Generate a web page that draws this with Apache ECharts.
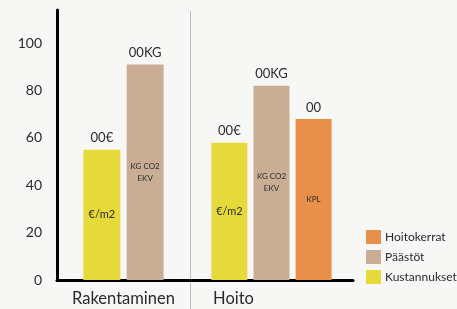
<!DOCTYPE html>
<html><head><meta charset="utf-8">
<script src="https://cdn.jsdelivr.net/npm/echarts@6/dist/echarts.min.js"></script>
<style>html,body{margin:0;padding:0;background:#f7f8f6;}#c{width:457px;height:309px;}</style>
</head><body><div id="c"></div>
<script>
const groups = ['Rakentaminen', 'Hoito'];
const seriesNames = ['Kustannukset', 'Päästöt', 'Hoitokerrat'];
const rakentaminenValues = [55, 91];          // Kustannukset, Päästöt
const hoitoValues = [58, 82, 68];             // Kustannukset, Päästöt, Hoitokerrat
const topLabels = ['00€', '00KG', '00'];
const insideLabels = ['€/m2', 'KG CO2\nEKV', 'KPL'];
const yTicks = [0, 20, 40, 60, 80, 100];

const colors = ['#e6da3a', '#c9ae95', '#e8904a'];
const insideSizes = [11, 8, 8];
const font = 'Lato';

const chart = echarts.init(document.getElementById('c'));

function barSeries(gi, si, values, axisIdx, bw) {
  return {
    type: 'bar', name: seriesNames[si], xAxisIndex: axisIdx, yAxisIndex: gi,
    data: [values[si]], barWidth: bw, barGap: '17%',
    itemStyle: { color: colors[si] },
    label: { show: true, position: 'inside', formatter: insideLabels[si],
      fontFamily: font, fontSize: insideSizes[si], lineHeight: insideSizes[si] + 4, color: '#2a2a2a' },
    silent: true
  };
}
function labelSeries(gi, si, values, axisIdx, bw) {
  return {
    type: 'bar', name: 'lbl' + gi + si, xAxisIndex: axisIdx, yAxisIndex: gi,
    data: [values[si]], barWidth: bw, barGap: '17%',
    itemStyle: { color: 'rgba(0,0,0,0)' },
    label: { show: true, position: 'top', distance: 5, formatter: topLabels[si],
      fontFamily: font, fontSize: 13, color: '#2a2a2a' },
    silent: true
  };
}

const series = [];
for (let i = 0; i < rakentaminenValues.length; i++) series.push(barSeries(0, i, rakentaminenValues, 0, 37));
for (let i = 0; i < hoitoValues.length; i++) series.push(barSeries(1, i, hoitoValues, 1, 36));
for (let i = 0; i < rakentaminenValues.length; i++) series.push(labelSeries(0, i, rakentaminenValues, 2, 37));
for (let i = 0; i < hoitoValues.length; i++) series.push(labelSeries(1, i, hoitoValues, 3, 36));

const xBase = (gi, show) => ({
  type: 'category', gridIndex: gi, data: [groups[gi]], show: show,
  axisLine: { show: true, lineStyle: { color: '#000', width: 3 } },
  axisTick: { show: false },
  axisLabel: { fontFamily: font, fontSize: 16.5, color: '#2a2a2a', margin: 10,
    padding: gi === 1 ? [0, 76, 0, 0] : 0 }
});

chart.setOption({
  backgroundColor: '#f7f8f6',
  animation: false,
  grid: [
    { left: 57, top: 10, width: 133, height: 270 },
    { left: 190, top: 10, width: 163, height: 270 }
  ],
  xAxis: [xBase(0, true), xBase(1, true), xBase(0, false), xBase(1, false)],
  yAxis: [
    { type: 'value', gridIndex: 0, min: 0, max: 114, interval: 20,
      axisLine: { show: true, lineStyle: { color: '#000', width: 3 } },
      axisTick: { show: false }, splitLine: { show: false },
      axisLabel: { fontFamily: font, fontSize: 14, color: '#2a2a2a', margin: 15, showMaxLabel: false,
        formatter: v => (yTicks.indexOf(v) >= 0 ? String(v) : '') } },
    { type: 'value', gridIndex: 1, min: 0, max: 114, interval: 20, show: false }
  ],
  legend: {
    data: ['Hoitokerrat', 'Päästöt', 'Kustannukset'],
    orient: 'vertical', left: 361, top: 225,
    icon: 'rect', itemWidth: 15, itemHeight: 14, itemGap: 6,
    textStyle: { fontFamily: font, fontSize: 12, color: '#2a2a2a', padding: [0, 0, 0, -1] },
    selectedMode: false
  },
  graphic: [{
    type: 'line', shape: { x1: 190.5, y1: 11, x2: 190.5, y2: 309 },
    style: { stroke: '#bdbdbd', lineWidth: 1 }, z: -1
  }],
  series: series
});
</script></body></html>
